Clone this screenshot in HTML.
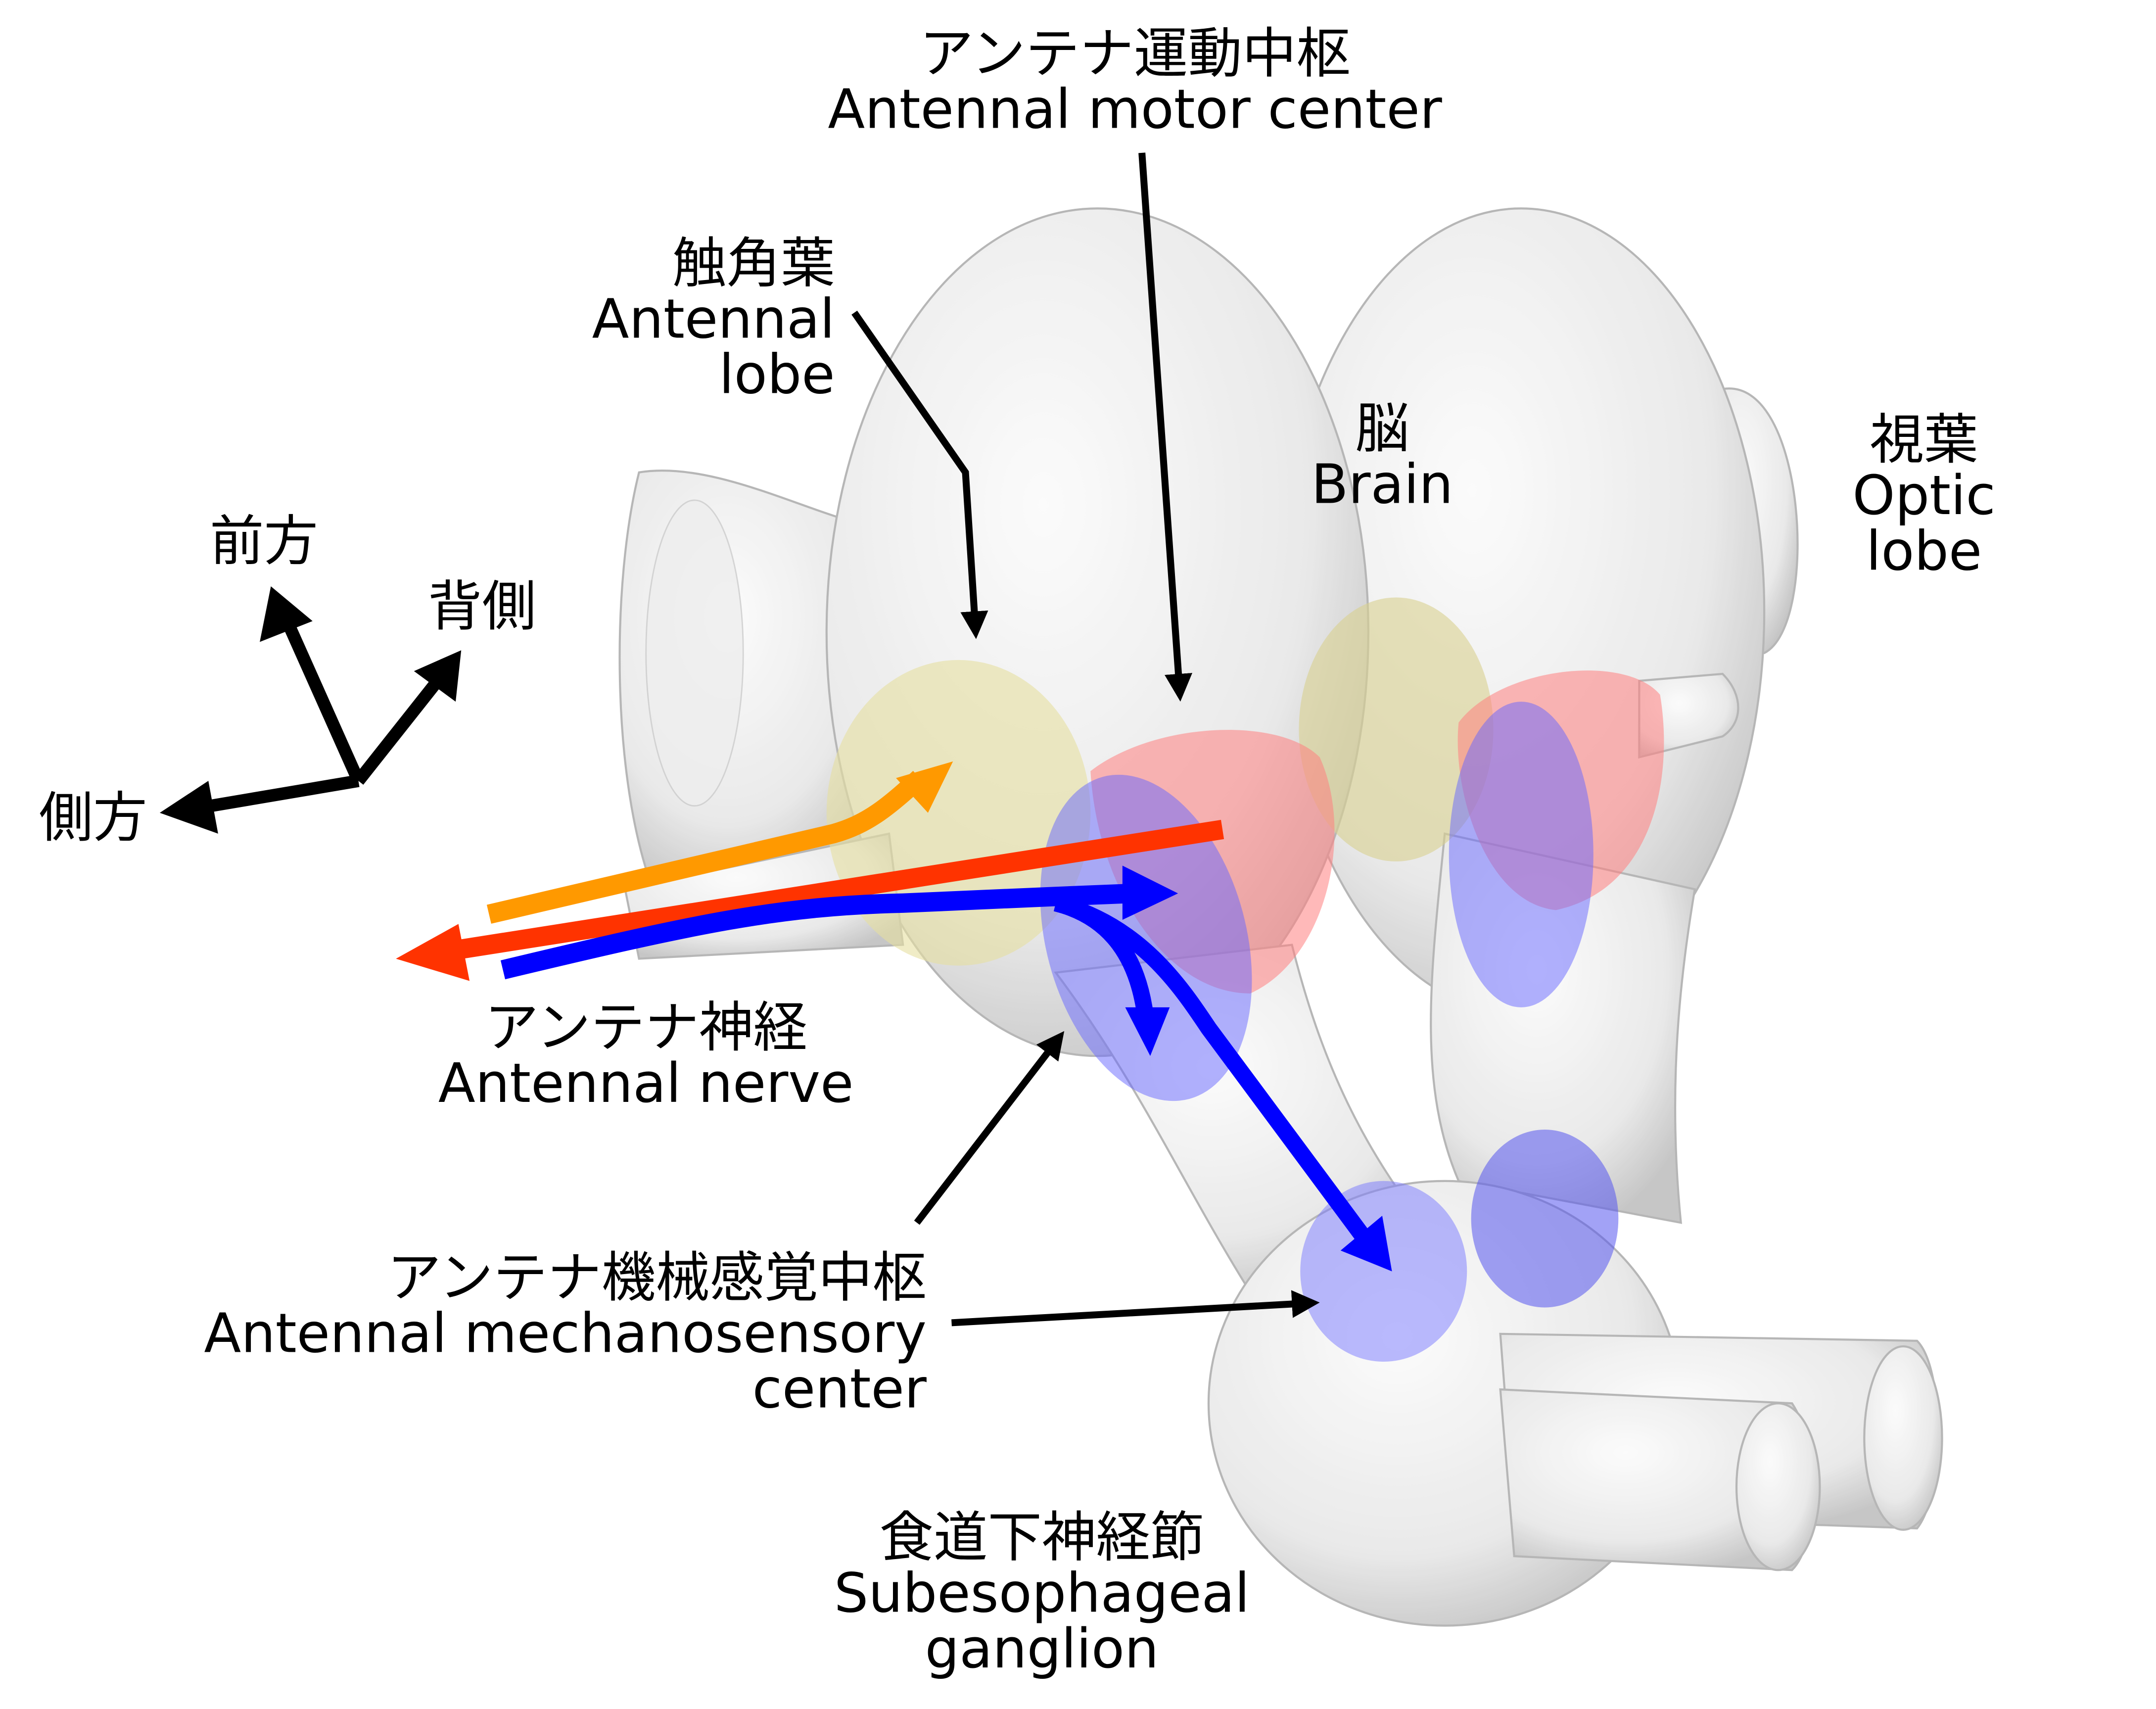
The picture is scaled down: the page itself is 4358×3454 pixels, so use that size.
<!DOCTYPE html>
<html><head><meta charset="utf-8"><style>
html,body{margin:0;padding:0;background:#fff;}
svg{display:block;}
text{font-family:"DejaVu Sans","Noto Sans CJK JP",sans-serif;font-size:39px;fill:#000;}
</style></head><body>
<svg width="4358" height="3454" viewBox="0 0 1552 1230" preserveAspectRatio="none" xmlns="http://www.w3.org/2000/svg">
<defs>
<radialGradient id="g" cx="40%" cy="35%" r="70%">
<stop offset="0" stop-color="#fbfbfb"/><stop offset="0.7" stop-color="#e6e6e6"/><stop offset="1" stop-color="#bdbdbd"/>
</radialGradient>
<marker id="ab" markerWidth="4" markerHeight="4" refX="2" refY="2" orient="auto" markerUnits="strokeWidth"><path d="M0,0 L4,2 L0,4 Z" fill="#000"/></marker>
</defs>
<rect width="1552" height="1230" fill="#fff"/>
<g fill="url(#g)" stroke="#aaa" stroke-width="1.5" opacity="0.85">
<path d="M460,340 C520,330 600,380 640,380 L640,600 L470,640 C440,560 440,420 460,340Z"/>
<path d="M1240,280 C1300,270 1310,450 1270,470 C1230,470 1210,300 1240,280Z"/>
<ellipse cx="1095" cy="440" rx="175" ry="290"/>
<path d="M1040,600 C1030,700 1020,780 1050,850 L1210,880 C1200,780 1210,700 1220,640Z"/>
<ellipse cx="790" cy="455" rx="195" ry="305"/>
<path d="M760,700 C820,780 850,850 900,930 L1040,900 C980,830 950,760 930,680Z"/>
<ellipse cx="1040" cy="1010" rx="170" ry="160"/>
<path d="M1080,960 L1380,965 C1400,985 1400,1075 1380,1100 L1090,1090Z"/>
<ellipse cx="1370" cy="1035" rx="28" ry="66"/>
<path d="M1080,1000 L1290,1010 C1310,1040 1310,1110 1290,1130 L1090,1120Z"/>
<ellipse cx="1280" cy="1070" rx="30" ry="60"/>
<path d="M1180,490 L1240,485 C1255,500 1255,520 1240,530 L1180,545Z"/>
<path d="M450,640 L640,600 L650,680 L460,690Z"/>
</g>
<ellipse cx="500" cy="470" rx="35" ry="110" fill="#eee" stroke="#ccc" opacity="0.8"/>
<ellipse cx="690" cy="585" rx="95" ry="110" fill="#e6e0a0" opacity="0.6"/>
<ellipse cx="1005" cy="525" rx="70" ry="95" fill="#d8d090" opacity="0.6"/>
<path d="M785,555 C830,520 920,515 950,545 C975,600 955,690 900,715 C840,715 790,640 785,555Z" fill="#ff8080" opacity="0.55"/>
<path d="M1050,520 C1080,480 1170,470 1195,500 C1205,560 1190,640 1120,655 C1070,650 1045,570 1050,520Z" fill="#ff8080" opacity="0.55"/>
<ellipse cx="825" cy="675" rx="72" ry="120" transform="rotate(-15 825 675)" fill="#6666ff" opacity="0.5"/>
<ellipse cx="1095" cy="615" rx="52" ry="110" fill="#6666ff" opacity="0.5"/>
<ellipse cx="1112" cy="877" rx="53" ry="64" fill="#5555ee" opacity="0.55"/>
<ellipse cx="996" cy="915" rx="60" ry="65" fill="#7777ff" opacity="0.5"/>
<path d="M352,658 L600,600 C625,593 640,580 662,560" fill="none" stroke="#ff9900" stroke-width="14"/>
<path d="M686,548 L645,560 L668,585Z" fill="#ff9900"/>
<path d="M880,597 L320,685" fill="none" stroke="#ff3300" stroke-width="14"/>
<path d="M285,690 L330,665 L338,706Z" fill="#ff3300"/>
<path d="M362,698 C500,665 560,652 650,650 C700,648 760,645 815,643" fill="none" stroke="#0000ff" stroke-width="14"/>
<path d="M848,643 L808,623 L808,662Z" fill="#0000ff"/>
<path d="M760,650 C800,660 820,690 825,735" fill="none" stroke="#0000ff" stroke-width="12"/>
<path d="M828,760 L810,725 L842,725Z" fill="#0000ff"/>
<path d="M760,650 C820,665 850,710 870,740 L985,895" fill="none" stroke="#0000ff" stroke-width="12"/>
<path d="M1002,915 L965,900 L995,875Z" fill="#0000ff"/>
<g stroke="#000" stroke-width="5" fill="none">
<path d="M615,225 L695,340 L702,450" marker-end="url(#ab)"/>
<path d="M822,110 L849,495" marker-end="url(#ab)"/>
<path d="M660,880 L760,750" marker-end="url(#ab)"/>
<path d="M685,952 L940,938" marker-end="url(#ab)"/>
</g>
<g stroke="#000" stroke-width="9" fill="none">
<path d="M258,562 L208,450"/><path d="M258,562 L315,490"/><path d="M258,562 L140,582"/>
</g>
<path d="M195,422 L187,462 L225,447Z" fill="#000"/>
<path d="M332,468 L298,483 L328,505Z" fill="#000"/>
<path d="M115,585 L150,562 L157,600Z" fill="#000"/>
<g text-anchor="middle">
<text x="817" y="52">アンテナ運動中枢</text>
<text x="817" y="92">Antennal motor center</text>
<text x="995" y="322">脳</text>
<text x="995" y="362">Brain</text>
<text x="1385" y="330">視葉</text>
<text x="1385" y="370">Optic</text>
<text x="1385" y="410">lobe</text>
<text x="190" y="403">前方</text>
<text x="347" y="450">背側</text>
<text x="67" y="602">側方</text>
<text x="465" y="753">アンテナ神経</text>
<text x="465" y="793">Antennal nerve</text>
<text x="750" y="1120">食道下神経節</text>
<text x="750" y="1160">Subesophageal</text>
<text x="750" y="1200">ganglion</text>
</g>
<g text-anchor="end">
<text x="601" y="203">触角葉</text>
<text x="601" y="243">Antennal</text>
<text x="601" y="283">lobe</text>
<text x="667" y="933">アンテナ機械感覚中枢</text>
<text x="667" y="973">Antennal mechanosensory</text>
<text x="667" y="1013">center</text>
</g>
</svg>
</body></html>
